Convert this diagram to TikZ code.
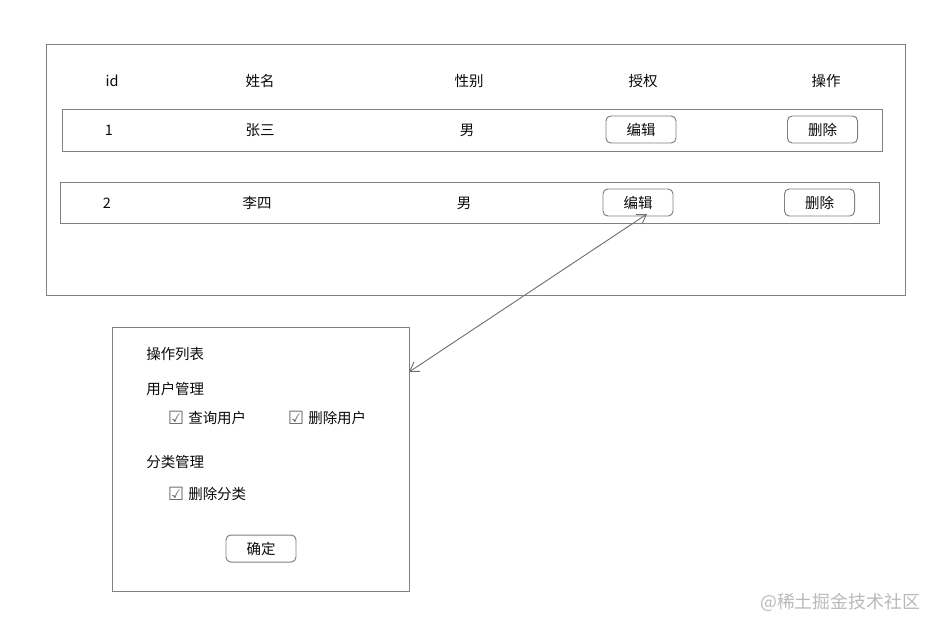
\documentclass[tikz,border=0pt]{standalone}
\usepackage{fontspec}
\setmainfont{Noto Sans CJK SC}
\newfontfamily\symfont{DejaVu Sans}
\usepackage{tikz}
\usetikzlibrary{arrows.meta}
\definecolor{linegray}{RGB}{128,128,128}
\definecolor{markgray}{RGB}{110,110,110}
\definecolor{textdark}{RGB}{10,10,10}
\definecolor{wmgray}{RGB}{185,185,185}

\begin{document}
\begin{tikzpicture}[x=0.25mm,y=-0.25mm,
    box/.style={draw=linegray,line width=0.7pt,inner sep=0pt},
    btn/.style={draw=linegray,line width=0.7pt,rounded corners=1.2mm,minimum width=17.5mm,minimum height=6.75mm,inner sep=0pt,text=textdark,font=\fontsize{10.3pt}{12pt}\selectfont},
    lbl/.style={inner sep=0pt,text=textdark,font=\fontsize{10.3pt}{12pt}\selectfont},
    tick/.style={inner sep=0pt,text=markgray,font=\symfont\fontsize{13pt}{14pt}\selectfont},
    link/.style={draw=markgray,line width=0.65pt,{Straight Barb[length=2.2mm,width=2.8mm]}-{Straight Barb[length=2.2mm,width=2.8mm]}}]
    \useasboundingbox (0,0) rectangle (940,631);
    	\node[box,minimum width=214.5mm,minimum height=62.75mm] (outer) at (476,169.5) {};
    	\node[box,minimum width=204.75mm,minimum height=10.5mm] (row1) at (472.5,130) {};
    	\node[box,minimum width=204.5mm,minimum height=10.25mm] (row2) at (470,202.5) {};
    	\node[box,minimum width=74.25mm,minimum height=66mm] (panel) at (260.5,459) {};
    \node[lbl] (hid) at (112,81) {id};
    \node[lbl] (hname) at (260,81) {姓名};
    \node[lbl] (hsex) at (469,81) {性别};
    \node[lbl] (hauth) at (643,81) {授权};
    \node[lbl] (hop) at (826,81) {操作};
    \node[lbl] (id1) at (109,130) {1};
    \node[lbl] (name1) at (260,130) {张三};
    \node[lbl] (sex1) at (467,130) {男};
    	\node[btn] (edit1) at (641,129.5) {编辑};
    	\node[btn] (del1) at (822.5,129.5) {删除};
    \node[lbl] (id2) at (107,203) {2};
    \node[lbl] (name2) at (257,203) {李四};
    \node[lbl] (sex2) at (464,203) {男};
    	\node[btn] (edit2) at (638,202.5) {编辑};
    	\node[btn] (del2) at (819.5,202.5) {删除};
    \node[lbl,anchor=west] (optitle) at (146,354) {操作列表};
    \node[lbl,anchor=west] (usergrp) at (146,389) {用户管理};
    \node[tick] (chk1) at (176,418) {☑};
    \node[lbl,anchor=west] (opt1) at (188,418) {查询用户};
    \node[tick] (chk2) at (296,418) {☑};
    \node[lbl,anchor=west] (opt2) at (308,418) {删除用户};
    \node[lbl,anchor=west] (catgrp) at (146,462) {分类管理};
    \node[tick] (chk3) at (176,494) {☑};
    \node[lbl,anchor=west] (opt3) at (188,494) {删除分类};
    	\node[btn] (ok) at (261,548.5) {确定};
    \coordinate (panelin) at (409,372);
    \coordinate (editout) at (647,214);
    	\draw[link] (panelin) -- (editout);
    \node[inner sep=0pt,text=wmgray,font=\fontsize{12.7pt}{14pt}\selectfont] (mark) at (840,602) {@稀土掘金技术社区};
\end{tikzpicture}
\end{document}
